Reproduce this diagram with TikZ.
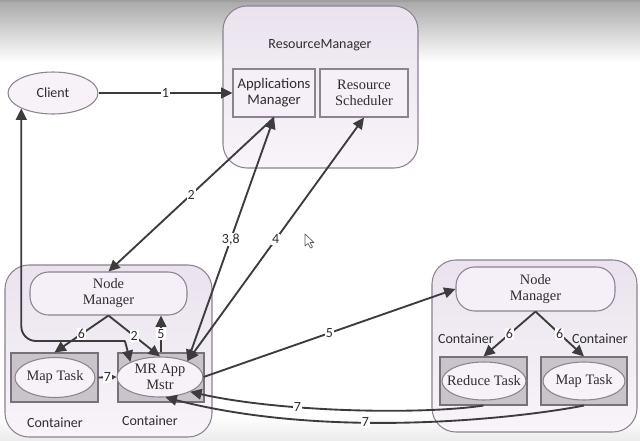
\documentclass[tikz,border=0pt]{standalone}
\usepackage{fontspec}
\setmainfont{Liberation Serif}
\newfontfamily\calibri{Carlito}
\usetikzlibrary{arrows.meta,shapes.geometric}
\definecolor{linec}{HTML}{3C3C3C}
\definecolor{txtc}{HTML}{2E2E2E}
\definecolor{boxline}{HTML}{8C8290}
\definecolor{lavtop}{HTML}{EAE3EE}
\definecolor{lavbot}{HTML}{F8F4F9}
\definecolor{innerfill}{HTML}{F5EFF7}
\definecolor{contfill}{HTML}{C9C4CA}
\definecolor{contline}{HTML}{77717A}
\definecolor{ellfill}{HTML}{F7F2F8}
\definecolor{bgtop}{HTML}{A8A8A8}
\begin{document}
\begin{tikzpicture}[x=0.75pt,y=-0.75pt,
  sans/.style={font=\calibri\fontsize{10.5}{12}\selectfont, text=txtc, align=center},
  serif/.style={font=\fontsize{10.8}{12}\selectfont, text=txtc, align=center},
  bigbox/.style={draw=boxline, line width=0.8pt, rounded corners=18pt, top color=lavtop, bottom color=lavbot},
  inbox/.style={draw=boxline, line width=0.8pt, fill=innerfill, inner sep=1pt},
  nmbox/.style={draw=boxline, line width=0.8pt, fill=innerfill, rounded corners=14pt, serif},
  contbox/.style={draw=contline, line width=0.8pt, fill=contfill},
  ell/.style={ellipse, draw=boxline, line width=0.8pt, fill=ellfill, inner xsep=-6pt, inner ysep=-2pt},
  arr/.style={draw=linec, line width=1.4pt, -{Triangle[length=8.5pt,width=8pt]}},
  arrtwo/.style={draw=linec, line width=1.4pt, {Triangle[length=8.5pt,width=8pt]}-{Triangle[length=8.5pt,width=8pt]}},
  arrsmall/.style={draw=linec, line width=1.4pt, -{Triangle[length=5pt,width=5pt]}},
  lbl/.style={fill=white, inner sep=0.8pt, font=\calibri\fontsize{10.5}{12}\selectfont, text=txtc}
]
\useasboundingbox (0,0) rectangle (640,440);
\fill[white] (0,0) rectangle (640,440);
\shade[top color=bgtop, bottom color=white] (0,0) rectangle (640,62);
\fill[gray!75] (0,0) rectangle (640,2);
\shade[top color=white, bottom color=gray!15] (0,415) rectangle (640,440);

% Resource Manager
\node[bigbox, minimum width=146.25pt, minimum height=121.5pt] (RMbox) at (320.5,87) {};
\node[sans] (RMt) at (320,45) {ResourceManager};
\node[inbox, sans, minimum width=61.5pt, minimum height=36pt, font=\calibri\fontsize{11}{12}\selectfont] (AM) at (274,93) {Applications\\Manager};
\node[inbox, serif, minimum width=66pt, minimum height=36pt] (RS) at (364,93) {Resource\\Scheduler};

% Client
\node[ell, sans, minimum width=67.5pt, minimum height=31.5pt] (Client) at (53,93) {Client};

% Left node manager
\node[bigbox, minimum width=155.25pt, minimum height=129pt] (LNMbox) at (108.5,351) {};
\node[nmbox, minimum width=117.75pt, minimum height=32.25pt] (LNM) at (108.5,293.5) {Node\\Manager};
\node[contbox, minimum width=65.25pt, minimum height=36.75pt] (LMapC) at (54.5,377.5) {};
\node[ell, serif, minimum width=60pt, minimum height=30pt] (LMap) at (55,377.5) {Map Task};
\node[contbox, minimum width=64.5pt, minimum height=36.75pt] (MRC) at (161,377.5) {};
\node[ell, serif, minimum width=64.5pt, minimum height=30pt] (MR) at (160,377) {MR App\\Mstr};
\node[sans] (LC1) at (55,423) {Container};
\node[sans] (LC2) at (150,421) {Container};

% Right node manager
\node[bigbox, minimum width=153.75pt, minimum height=129pt] (RNMbox) at (534.5,346) {};
\node[nmbox, minimum width=119.25pt, minimum height=33pt] (RNM) at (535.5,289) {Node\\Manager};
\node[contbox, minimum width=65.25pt, minimum height=36pt] (RedC) at (483.5,381) {};
\node[ell, serif, minimum width=63pt, minimum height=28.5pt] (Red) at (484,381) {Reduce Task};
\node[contbox, minimum width=64.5pt, minimum height=36pt] (RMapC) at (584,381) {};
\node[ell, serif, minimum width=61.5pt, minimum height=28.5pt] (RMap) at (584,381) {Map Task};
\node[sans] (RC1) at (466,339) {Container};
\node[sans] (RC2) at (600,339) {Container};

% Connectors
\draw[arrtwo, rounded corners=11pt] (Client.206) |- (110,341) .. controls (125,341) .. (MR.153);
\draw[arr] (Client.east) -- node[lbl]{1} (AM.west);
\draw[arr] (AM.south) -- node[lbl]{2} (LNM.north);
\draw[arrtwo] (MR.30) -- node[lbl]{3,8} (AM.south);
\draw[arrtwo] (MR.30) -- node[lbl]{4} (RS.south);
\draw[arr] (MR.east) -- node[lbl]{5} (RNM.west);
\draw[arr] (MRC.north) -- node[lbl]{5} (MRC.north |- LNM.south);
\draw[arr] (LNM.south) -- node[lbl]{6} (LMapC.north);
\draw[arr] (LNM.south) -- node[lbl]{2} (MR.north);
\draw[arr] (RNM.south) -- node[lbl]{6} (RedC.north);
\draw[arr] (RNM.south) -- node[lbl]{6} (RMapC.north);
\draw[arrsmall] (LMapC.east) -- node[lbl]{7} (MR.west);
\draw[arr] (RedC.south) .. controls (420,415) and (280,412) .. node[lbl,pos=0.65]{7} (MR.-26);
\draw[arr] (RMapC.south) .. controls (520,418) and (330,440) .. node[lbl,pos=0.6]{7} (MR.-75);

% mouse cursor
\draw[gray!70!black, fill=white, line width=0.5pt, line join=round] (305,234) -- (305,246) -- (308,243.5) -- (310.5,248) -- (312.5,247) -- (310,242.5) -- (314,242.5) -- cycle;
\end{tikzpicture}
\end{document}
